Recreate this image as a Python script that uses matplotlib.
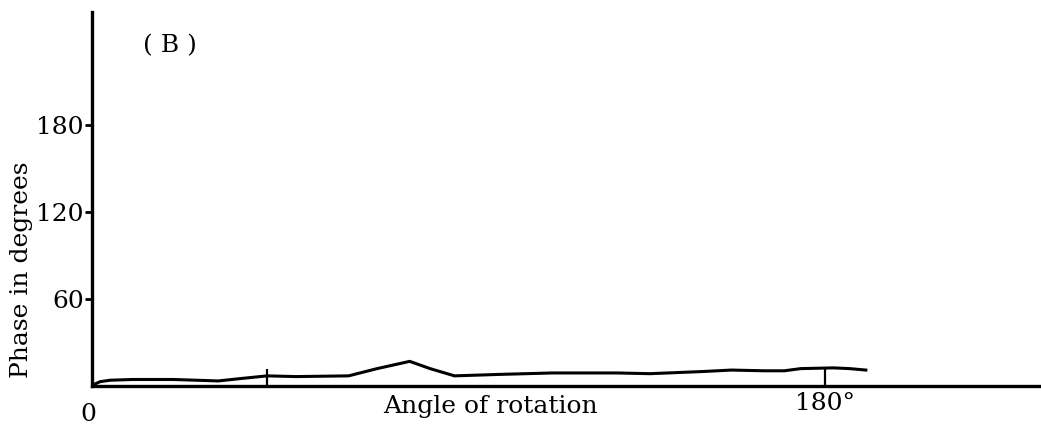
import matplotlib.pyplot as plt
import numpy as np

# phase trace read along the rotation angle (degrees)
angle = [0, 2, 4.5, 10, 20, 31, 36, 43, 50, 63, 70, 78, 83, 89, 100, 113, 129, 137, 150, 157, 165, 170, 174, 182, 186, 190]
phase = [0.5, 3, 4, 4.5, 4.5, 3.5, 5, 7, 6.5, 7, 12, 17, 12, 7, 8, 9, 9, 8.5, 10, 11, 10.5, 10.5, 12, 12.5, 12, 11]

y_ticks = [60, 120, 180]

plt.rcParams["font.family"] = ["DejaVu Serif"]

fig = plt.figure(figsize=(10.41, 4.30), dpi=100)
ax = fig.add_axes([0.0884, 0.1023, 0.9116, 0.870])

ax.plot(angle, phase, color="black", lw=2.2)

ax.set_xlim(0, 233)
ax.set_ylim(0, 258)

ax.spines["top"].set_visible(False)
ax.spines["right"].set_visible(False)
ax.spines["left"].set_linewidth(2.4)
ax.spines["bottom"].set_linewidth(2.4)

ax.set_yticks(y_ticks)
ax.set_yticklabels([str(v) for v in y_ticks], fontsize=18)
ax.tick_params(axis="y", direction="out", length=5, width=2, pad=1)

# inward ticks on the rotation axis
ax.set_xticks([43, 180])
ax.set_xticklabels([])
ax.tick_params(axis="x", direction="in", length=12, width=1.6)
ax.text(180, -4, "180°", ha="center", va="top", fontsize=18)
ax.text(-1, -12, "0", ha="center", va="top", fontsize=18)

ax.set_xlabel("Angle of rotation", fontsize=18)
ax.xaxis.set_label_coords(0.42, -0.025)
ax.xaxis.label.set_va("top")
ax.set_ylabel("Phase in degrees", fontsize=18)
ax.yaxis.set_label_coords(-0.074, 0.31)
ax.yaxis.label.set_va("center")

ax.text(0.082, 0.91, "( B )", transform=ax.transAxes, fontsize=18, ha="center", va="center")

fig.savefig("out.png", dpi=100)
